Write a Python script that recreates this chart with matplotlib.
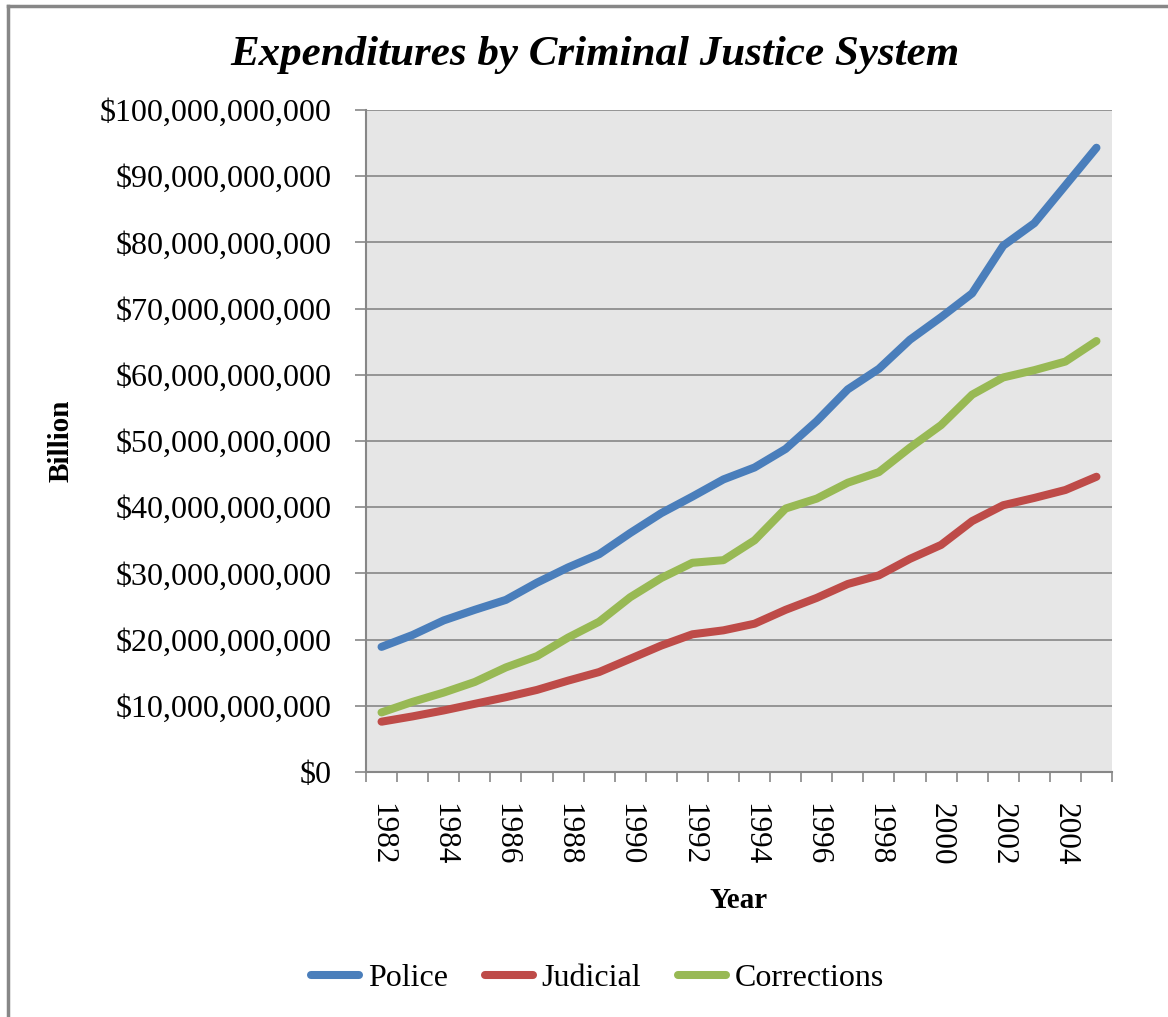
import matplotlib.pyplot as plt
from matplotlib.lines import Line2D
from matplotlib.ticker import FuncFormatter

plt.rcParams['font.family'] = ['Liberation Serif', 'DejaVu Serif']

years = list(range(1982, 2006))

# billions of dollars
police = [18.9, 20.7, 22.9, 24.5, 26.0, 28.6, 30.9, 32.9, 36.1, 39.1, 41.6, 44.2,
          46.0, 48.8, 53.0, 57.8, 60.9, 65.3, 68.7, 72.3, 79.5, 82.9, 88.6, 94.3]
judicial = [7.6, 8.4, 9.3, 10.3, 11.3, 12.4, 13.8, 15.1, 17.1, 19.1, 20.8, 21.4,
            22.4, 24.5, 26.3, 28.4, 29.7, 32.2, 34.3, 37.9, 40.3, 41.4, 42.6, 44.6]
corrections = [9.0, 10.6, 12.0, 13.6, 15.8, 17.5, 20.3, 22.7, 26.4, 29.3, 31.6, 32.0,
               35.0, 39.8, 41.3, 43.7, 45.3, 49.0, 52.4, 57.0, 59.6, 60.7, 62.0, 65.1]

series = [("Police", police, "#4a7ebb"),
          ("Judicial", judicial, "#be4b48"),
          ("Corrections", corrections, "#98b954")]

grid_c = "#878787"

fig = plt.figure(figsize=(11.68, 10.17), dpi=100)
ax = fig.add_axes([366 / 1168, 1 - 772 / 1017, 746 / 1168, 662 / 1017])
ax.set_facecolor("#e6e6e6")

x = list(range(len(years)))
for name, vals, col in series:
    ax.plot(x, [v * 1e9 for v in vals], color=col, lw=5.8, solid_capstyle="round",
            solid_joinstyle="round", label=name, zorder=3)

ax.set_xlim(-0.5, len(years) - 0.5)
ax.set_ylim(0, 100e9)
ax.set_yticks([i * 10e9 for i in range(11)])
ax.yaxis.set_major_formatter(FuncFormatter(lambda v, p: f"${v:,.0f}"))
ax.yaxis.grid(True, color=grid_c, lw=1.2)
ax.set_axisbelow(True)

# ticks at category boundaries, labels at every other category centre
ax.set_xticks([i - 0.5 for i in range(len(years) + 1)])
ax.set_xticklabels([])
ax.set_xticks(x[::2], minor=True)
ax.set_xticklabels([str(y) for y in years[::2]], minor=True, rotation=270,
                   fontsize=22.5)
ax.tick_params(axis="x", which="major", length=7.5, width=1.2, color=grid_c)
ax.tick_params(axis="x", which="minor", length=0, pad=22)
ax.tick_params(axis="y", length=8, width=1.2, color=grid_c, labelsize=23, pad=17)

for s in ["top", "right"]:
    ax.spines[s].set_visible(False)
for s in ["left", "bottom"]:
    ax.spines[s].set_color(grid_c)
    ax.spines[s].set_linewidth(1.5)

ax.set_xlabel("Year", fontsize=21, fontweight="bold", labelpad=16)
ax.set_ylabel("Billion", fontsize=21, fontweight="bold", labelpad=18)
fig.text(0.509, 1 - 55 / 1017, "Expenditures by Criminal Justice System",
         ha="center", va="center", fontsize=31, fontweight="bold", style="italic")

handles = [Line2D([], [], color=c, lw=5.8, solid_capstyle="round") for _, _, c in series]
fig.legend(handles, [n for n, _, _ in series], loc="center",
           bbox_to_anchor=(0.5116, 1 - 978 / 1017), ncol=3, frameon=False,
           fontsize=23, handlelength=1.5, handletextpad=0.28, columnspacing=1.15,
           borderpad=0)

# chart area border (left and top)
fig.add_artist(Line2D([8 / 1168, 8 / 1168], [0, 1 - 6 / 1017], color=grid_c, lw=2.5))
fig.add_artist(Line2D([8 / 1168, 1], [1 - 6 / 1017, 1 - 6 / 1017], color=grid_c, lw=2.5))

plt.savefig("out.png", dpi=100)
